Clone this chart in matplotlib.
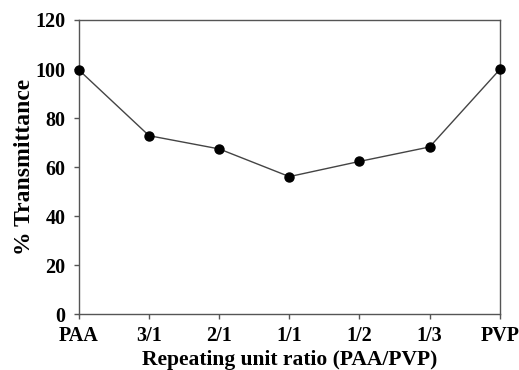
import matplotlib.pyplot as plt

categories = ['PAA', '3/1', '2/1', '1/1', '1/2', '1/3', 'PVP']
transmittance = [99.6, 72.8, 67.4, 56.1, 62.3, 68.2, 99.8]
y_ticks = [0, 20, 40, 60, 80, 100, 120]

plt.rcParams['font.family'] = 'Liberation Serif'
plt.rcParams['font.weight'] = 'bold'

fig = plt.figure(figsize=(5.19, 3.70), dpi=100)
ax = fig.add_axes([0.152, 0.151, 0.811, 0.795])

x = list(range(len(categories)))
ax.plot(x, transmittance, color='#444444', linewidth=1.0, marker='o',
        markersize=6.5, markerfacecolor='black', markeredgecolor='black',
        clip_on=False, zorder=3)

ax.set_xlim(0, len(categories) - 1)
ax.set_ylim(0, 120)
ax.set_xticks(x)
ax.set_xticklabels(categories)
ax.set_yticks(y_ticks)

for s in ax.spines.values():
    s.set_color('#555555')
    s.set_linewidth(1.0)

ax.tick_params(axis='both', direction='out', length=3.6, width=1.0, color='#555555',
               labelsize=14.5)
ax.tick_params(axis='y', pad=6)
ax.tick_params(axis='x', pad=5)

ax.set_xlabel('Repeating unit ratio (PAA/PVP)', fontsize=15.5, fontweight='bold', labelpad=2.5)
ax.set_ylabel('% Transmittance', fontsize=17, fontweight='bold', labelpad=0)

fig.savefig('out.png', dpi=100)
